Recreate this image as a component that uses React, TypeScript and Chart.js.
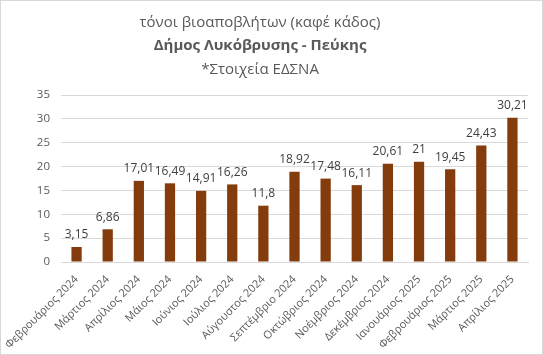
import React, { useEffect, useRef } from "react";
import { Chart, registerables } from "chart.js";

Chart.register(...registerables);

const categories = [
  "Φεβρουάριος 2024", "Μάρτιος 2024", "Απρίλιος 2024", "Μάιος 2024", "Ιούνιος 2024",
  "Ιούλιος 2024", "Αύγουστος 2024", "Σεπτέμβριο 2024", "Οκτώβριος 2024", "Νοέμβριος 2024",
  "Δεκέμβριος 2024", "Ιανουάριος 2025", "Φεβρουάριος 2025", "Μάρτιος 2025", "Απρίλιος 2025",
];
const values = [3.15, 6.86, 17.01, 16.49, 14.91, 16.26, 11.8, 18.92, 17.48, 16.11, 20.61, 21, 19.45, 24.43, 30.21];
const titleLines = ["τόνοι βιοαποβλήτων (καφέ κάδος)", "Δήμος Λυκόβρυσης - Πεύκης", "*Στοιχεία ΕΔΣΝΑ"];
const yMin = 0;
const yMax = 35;
const yStep = 5;

const FONT = "'Open Sans', 'Noto Sans', sans-serif";

const fmt = (v: number) => String(v).replace(".", ",");

const decorPlugin = {
  id: "decor",
  beforeDraw(chart: any) {
    const { ctx, width, height } = chart;
    ctx.save();
    ctx.fillStyle = "#ffffff";
    ctx.fillRect(0, 0, width, height);
    ctx.strokeStyle = "#d9d9d9";
    ctx.lineWidth = 1;
    ctx.strokeRect(0.5, 0.5, width - 1, height - 1);
    ctx.restore();
  },
  afterDraw(chart: any) {
    const { ctx } = chart;
    ctx.save();
    ctx.fillStyle = "#595959";
    ctx.textAlign = "center";
    ctx.textBaseline = "middle";
    const ys = [23, 46, 70];
    titleLines.forEach((t, i) => {
      ctx.font = (i === 1 ? "bold " : "") + "15px " + FONT;
      ctx.fillText(t, 260, ys[i]);
    });
    // data labels
    const meta = chart.getDatasetMeta(0);
    ctx.fillStyle = "#404040";
    ctx.font = "12px " + FONT;
    ctx.textBaseline = "bottom";
    meta.data.forEach((bar: any, i: number) => {
      ctx.fillText(fmt(values[i]), bar.x, bar.y - 6);
    });
    ctx.restore();
  },
};

export default function App() {
  const ref = useRef<HTMLCanvasElement>(null);
  useEffect(() => {
    if (!ref.current) return;
    const chart = new Chart(ref.current, {
      type: "bar",
      data: {
        labels: categories,
        datasets: [
          {
            data: values,
            backgroundColor: "#843c0c",
            barPercentage: 0.33,
            categoryPercentage: 1,
          },
        ],
      },
      options: {
        responsive: false,
        animation: false,
        layout: { padding: { top: 95, right: 15, left: 0, bottom: 0 } },
        plugins: { legend: { display: false }, title: { display: false }, tooltip: { enabled: false } },
        scales: {
          x: {
            grid: { display: false },
            border: { display: true, color: "#d9d9d9" },
            ticks: {
              color: "#595959",
              font: { family: FONT, size: 11 },
              minRotation: 45,
              maxRotation: 45,
              autoSkip: false,
              padding: 3,
            },
            afterFit: (s: any) => { s.height = 355 - 262; },
          },
          y: {
            min: yMin,
            max: yMax,
            grid: { color: "#d9d9d9", drawTicks: false },
            border: { display: false },
            ticks: {
              stepSize: yStep,
              color: "#595959",
              font: { family: FONT, size: 11.5 },
              padding: 11,
            },
            afterFit: (s: any) => { s.width = 61; },
          },
        },
      },
      plugins: [decorPlugin],
    });
    return () => chart.destroy();
  }, []);
  return (
    <div style={{ position: "absolute", left: 0, top: 0, width: 543, height: 355 }}>
      <canvas ref={ref} width={543} height={355} style={{ display: "block" }} />
    </div>
  );
}
